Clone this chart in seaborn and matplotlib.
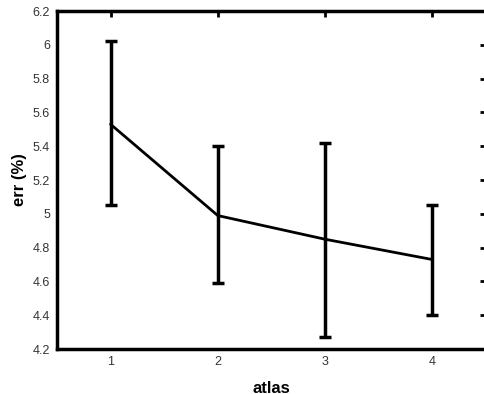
import numpy as np
import pandas as pd
import matplotlib
matplotlib.use("Agg")
import matplotlib.pyplot as plt
import seaborn as sns

# values
atlas = [1, 2, 3, 4]
err_mean = [5.53, 4.99, 4.85, 4.73]
err_low = [5.05, 4.59, 4.27, 4.40]
err_high = [6.02, 5.40, 5.42, 5.05]

df = pd.DataFrame({"atlas": atlas, "err": err_mean})

sns.set_style("white")
plt.rcParams['font.family'] = ['Liberation Sans', 'DejaVu Sans']

fig = plt.figure(figsize=(4.85, 3.94), dpi=100)
ax = fig.add_axes([0.1175, 0.114, 0.884, 0.858])

sns.lineplot(data=df, x="atlas", y="err", color="black", linewidth=2, ax=ax)
yerr = [np.array(err_mean) - np.array(err_low), np.array(err_high) - np.array(err_mean)]
ax.errorbar(atlas, err_mean, yerr=yerr, fmt="none", ecolor="black",
            elinewidth=2.5, capsize=4, capthick=2.5)

ax.set_xlim(0.5, 4.5)
ax.set_ylim(4.2, 6.2)
ax.set_xticks(atlas)
ax.set_xticklabels([str(a) for a in atlas])
ax.set_yticks(np.arange(4.2, 6.21, 0.2))
ax.set_yticklabels(["4.2", "4.4", "4.6", "4.8", "5", "5.2", "5.4", "5.6", "5.8", "6", "6.2"])
ax.tick_params(direction="in", length=4, width=2, top=True, right=True,
               labelsize=9, labelcolor="#333333", color="black", pad=5)
for s in ax.spines.values():
    s.set_linewidth(2.5)
    s.set_color("black")

ax.set_xlabel("atlas", fontsize=12, fontweight="bold", labelpad=9, color="black")
ax.set_ylabel("err (%)", fontsize=12, fontweight="bold", labelpad=4, color="black")

fig.savefig("out.png", dpi=100)
